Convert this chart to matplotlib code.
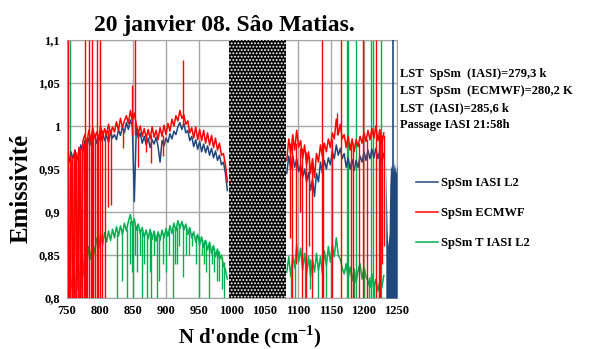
import matplotlib
matplotlib.use("Agg")
import matplotlib.pyplot as plt
import numpy as np

plt.rcParams["font.family"] = ["Liberation Serif", "DejaVu Serif"]
plt.rcParams["font.weight"] = "bold"
plt.rcParams["hatch.linewidth"] = 0.9

# ---------------- data ----------------
title = "20 janvier 08. Sâo Matias."
series_names = ["SpSm IASI L2", "SpSm ECMWF", "SpSm T IASI L2"]
notes = ["LST  SpSm  (IASI)=279,3 k",
         "LST  SpSm  (ECMWF)=280,2 K",
         "LST  (IASI)=285,6 k",
         "Passage IASI 21:58h"]

x_ticks = [750, 800, 850, 900, 950, 1000, 1050, 1100, 1150, 1200, 1250]
y_ticks = [0.8, 0.85, 0.9, 0.95, 1.0, 1.05, 1.1]
y_tick_labels = ["0,8", "0,85", "0,9", "0,95", "1", "1,05", "1,1"]

masked_band = (995, 1082)

# left part 753..993 step 3
wn_left = np.arange(753, 995, 3)
iasi_left = [
    0.958, 0.970, 0.962, 0.972, 0.960, 0.968, 0.978, 0.970, 0.983, 0.975,
    0.986, 0.978, 0.984, 0.990, 0.980, 0.987, 0.982, 0.992, 0.983, 0.989,
    0.981, 0.993, 0.986, 0.990, 0.984, 0.996, 0.989, 0.999, 0.992, 1.004,
    0.996, 1.007, 1.000, 0.912, 0.998, 0.986, 0.992, 0.980, 0.988, 0.978,
    0.986, 0.975, 0.984, 0.979, 0.987, 0.976, 0.958, 0.983, 0.977, 0.986,
    0.981, 0.991, 0.985, 0.994, 0.990, 0.999, 1.004, 0.996, 1.003, 0.992,
    0.995, 0.983, 0.988, 0.976, 0.984, 0.973, 0.982, 0.970, 0.979, 0.969,
    0.977, 0.966, 0.974, 0.963, 0.971, 0.960, 0.966, 0.955, 0.958, 0.945,
    0.925]
ecmwf_left = [
    0.800, 0.965, 0.800, 0.972, 0.810, 0.975, 0.800, 0.982, 0.990, 0.979,
    0.995, 0.983, 0.998, 0.986, 0.993, 0.985, 1.000, 0.988, 0.997, 0.990,
    1.002, 0.991, 0.999, 0.993, 1.005, 0.995, 1.009, 0.998, 1.006, 1.012,
    1.003, 1.018, 1.006, 1.015, 1.002, 0.992, 1.000, 0.988, 0.997, 0.986,
    0.996, 0.985, 0.999, 0.987, 0.995, 0.984, 0.998, 0.988, 1.001, 0.990,
    1.003, 0.994, 1.008, 1.000, 1.012, 1.006, 1.018, 1.009, 1.013, 1.002,
    1.006, 0.992, 0.998, 0.986, 0.999, 0.984, 0.996, 0.983, 0.995, 0.980,
    0.992, 0.978, 0.989, 0.975, 0.986, 0.972, 0.980, 0.966, 0.968, 0.955,
    0.935]
t_iasi_left = [
    0.800, 0.812, 0.828, 0.808, 0.838, 0.815, 0.845, 0.825, 0.852, 0.838,
    0.860, 0.845, 0.866, 0.852, 0.870, 0.858, 0.874, 0.862, 0.876, 0.865,
    0.878, 0.867, 0.880, 0.870, 0.883, 0.872, 0.884, 0.874, 0.887, 0.878,
    0.889, 0.897, 0.884, 0.892, 0.879, 0.886, 0.875, 0.882, 0.871, 0.879,
    0.869, 0.880, 0.868, 0.878, 0.866, 0.877, 0.867, 0.879, 0.870, 0.881,
    0.872, 0.884, 0.875, 0.887, 0.878, 0.890, 0.881, 0.889, 0.879, 0.886,
    0.874, 0.882, 0.870, 0.877, 0.865, 0.874, 0.862, 0.871, 0.859, 0.867,
    0.856, 0.865, 0.852, 0.861, 0.848, 0.857, 0.845, 0.850, 0.838, 0.833,
    0.822]

# right part 1083..1230 step 3
wn_right = np.arange(1083, 1233, 3)
iasi_right = [
    0.945, 0.965, 0.950, 0.966, 0.952, 0.962, 0.947, 0.955, 0.940, 0.950,
    0.935, 0.946, 0.925, 0.938, 0.918, 0.945, 0.935, 0.958, 0.945, 0.960,
    0.950, 0.963, 0.955, 0.970, 0.962, 0.978, 0.966, 0.974, 0.962, 0.968,
    0.952, 0.963, 0.950, 0.961, 0.948, 0.960, 0.952, 0.965, 0.958, 0.970,
    0.960, 0.972, 0.962, 0.973, 0.963, 0.974, 0.962, 0.972, 0.958, 0.968]
ecmwf_right = [
    0.960, 0.985, 0.968, 0.990, 0.972, 0.995, 0.975, 0.983, 0.962, 0.978,
    0.955, 0.970, 0.945, 0.962, 0.940, 0.968, 0.958, 0.978, 0.965, 0.980,
    0.970, 0.985, 0.975, 0.992, 0.985, 1.008, 0.990, 1.002, 0.985, 0.990,
    0.975, 0.988, 0.972, 0.985, 0.970, 0.984, 0.976, 0.988, 0.980, 0.992,
    0.982, 0.995, 0.984, 0.997, 0.986, 1.000, 0.983, 0.996, 0.980, 0.992]
t_iasi_right = [
    0.830, 0.848, 0.825, 0.850, 0.835, 0.862, 0.842, 0.858, 0.832, 0.852,
    0.828, 0.848, 0.825, 0.845, 0.830, 0.852, 0.832, 0.848, 0.828, 0.855,
    0.838, 0.860, 0.842, 0.862, 0.848, 0.870, 0.850, 0.845, 0.835, 0.828,
    0.840, 0.822, 0.836, 0.820, 0.834, 0.818, 0.832, 0.840, 0.822, 0.836,
    0.825, 0.820, 0.812, 0.828, 0.810, 0.822, 0.808, 0.820, 0.812, 0.826]

# IASI tail at the upper edge (1233..1250)
wn_tail = [1233, 1235, 1236, 1238, 1239, 1240, 1242, 1244, 1246, 1248, 1250]
iasi_tail = [0.960, 0.880, 0.860, 0.875, 0.930, 0.950, 0.955, 0.945, 0.958, 0.945, 0.955]

# spectral spikes: position, low end, high end
ecmwf_spike_wn = [751, 777, 783, 788, 795, 800, 853, 848, 925,
                  754, 755, 757, 758, 760, 761, 763, 764, 766, 767, 769, 770,
                  772, 773, 775, 779, 781, 786, 790, 793, 797, 803, 808,
                  812, 816, 857, 877, 870, 896, 835,
                  1136, 1165, 1198, 1218, 1159,
                  1088, 1091, 1097, 1103, 1106, 1112, 1117, 1121, 1138, 1151,
                  1180, 1183, 1192, 1205, 1222, 1224, 1227, 1230]
ecmwf_spike_lo = [0.80, 0.80, 0.80, 0.80, 0.80, 0.80, 0.99, 0.99, 1.00,
                  0.80, 0.80, 0.80, 0.80, 0.80, 0.80, 0.80, 0.80, 0.80, 0.80, 0.80, 0.80,
                  0.80, 0.80, 0.80, 0.80, 0.80, 0.80, 0.80, 0.80, 0.80, 0.80, 0.80,
                  0.906, 0.908, 0.952, 0.957, 0.970, 0.965, 0.975,
                  0.80, 0.80, 0.80, 0.80, 0.99,
                  0.87, 0.80, 0.84, 0.90, 0.80, 0.80, 0.86, 0.80, 0.80, 0.80,
                  0.80, 0.80, 0.80, 0.80, 0.80, 0.80, 0.84, 0.86]
ecmwf_spike_hi = [1.10, 1.10, 1.10, 1.10, 1.10, 1.10, 1.10, 1.048, 1.077,
                  0.96, 0.95, 0.965, 0.96, 0.97, 0.965, 0.97, 0.968, 0.972, 0.97, 0.975, 0.972,
                  0.978, 0.975, 0.98, 0.985, 0.985, 0.99, 0.99, 0.99, 0.99, 0.995, 0.995,
                  0.995, 0.995, 0.995, 0.99, 0.99, 0.99, 0.995,
                  1.10, 1.10, 1.10, 1.10, 1.015,
                  0.98, 0.98, 0.98, 0.975, 0.975, 0.97, 0.965, 0.96, 0.98, 0.985,
                  0.98, 0.98, 0.98, 0.985, 0.99, 0.99, 0.99, 0.99]

t_iasi_spike_wn = [754, 762, 768, 790, 826, 833, 841, 845, 848, 850, 853, 856,
                   860, 864, 867, 871, 875, 878, 882, 886, 890, 895, 900,
                   905, 910, 913, 917, 920, 926, 930, 935, 940, 945, 950,
                   955, 957, 960, 965, 970, 972, 977, 980, 985, 988,
                   1174, 1176, 1188, 1211, 1213, 1226,
                   1089, 1095, 1110, 1118, 1130, 1142, 1150, 1185, 1200,
                   1207, 1215, 1222]
t_iasi_spike_lo = [0.80, 0.80, 0.80, 0.80, 0.80, 0.82, 0.80, 0.84, 0.83, 0.80, 0.85, 0.83,
                   0.85, 0.80, 0.84, 0.80, 0.83, 0.80, 0.85, 0.80, 0.82, 0.84, 0.83,
                   0.85, 0.80, 0.84, 0.84, 0.86, 0.825, 0.85, 0.85, 0.86, 0.84, 0.80,
                   0.85, 0.84, 0.83, 0.80, 0.84, 0.83, 0.82, 0.82, 0.81, 0.80,
                   0.80, 0.80, 0.80, 0.80, 0.80, 0.80,
                   0.80, 0.80, 0.80, 0.81, 0.80, 0.80, 0.80, 0.80, 0.80,
                   0.80, 0.80, 0.80]
t_iasi_spike_hi = [1.10, 0.82, 0.83, 0.86, 0.875, 0.88, 0.88, 0.89, 0.89, 0.89, 0.885, 0.885,
                   0.88, 0.877, 0.875, 0.875, 0.876, 0.877, 0.874, 0.876, 0.875, 0.876, 0.878,
                   0.878, 0.88, 0.882, 0.883, 0.886, 0.886, 0.884, 0.882, 0.876, 0.873, 0.872,
                   0.868, 0.868, 0.865, 0.865, 0.86, 0.858, 0.856, 0.855, 0.848, 0.842,
                   1.10, 1.10, 1.10, 1.10, 1.10, 1.10,
                   0.832, 0.84, 0.848, 0.845, 0.84, 0.845, 0.85, 0.83, 0.835,
                   0.825, 0.82, 0.815]

iasi_spike_wn = [1244]
iasi_spike_lo = [0.80]
iasi_spike_hi = [1.10]

c_iasi = "#1F497D"
c_ecmwf = "#FF0000"
c_t = "#00B050"

# ---------------- figure ----------------
fig = plt.figure(figsize=(5.95, 3.49), dpi=100)
ax = fig.add_axes([67 / 595, 1 - 298 / 349, 330 / 595, 258 / 349])

lw = 1.1
ax.plot(wn_left, t_iasi_left, color=c_t, lw=lw, zorder=2)
ax.plot(wn_right, t_iasi_right, color=c_t, lw=lw, zorder=2)
ax.vlines(t_iasi_spike_wn, t_iasi_spike_lo, t_iasi_spike_hi, color=c_t, lw=1.0, zorder=2)

l_iasi, = ax.plot(wn_left, iasi_left, color=c_iasi, lw=lw, zorder=3)
ax.plot(wn_right, iasi_right, color=c_iasi, lw=lw, zorder=3)
ax.fill_between(wn_tail, 0.8, iasi_tail, color=c_iasi, lw=0, zorder=3)
ax.vlines(iasi_spike_wn, iasi_spike_lo, iasi_spike_hi, color=c_iasi, lw=1.2, zorder=3)

l_ecmwf, = ax.plot(wn_left, ecmwf_left, color=c_ecmwf, lw=lw, zorder=4)
ax.plot(wn_right, ecmwf_right, color=c_ecmwf, lw=lw, zorder=4)
ax.vlines(ecmwf_spike_wn, ecmwf_spike_lo, ecmwf_spike_hi, color=c_ecmwf, lw=1.0, zorder=4)

l_t, = ax.plot([], [], color=c_t, lw=lw)

# masked band
ax.axvspan(masked_band[0], masked_band[1], facecolor="black", edgecolor="white",
           hatch=".....", lw=0, zorder=5)

ax.set_xlim(750, 1250)
ax.set_ylim(0.8, 1.1)
ax.set_xticks(x_ticks)
ax.set_yticks(y_ticks)
ax.set_yticklabels(y_tick_labels)
ax.tick_params(length=0, labelsize=9, pad=5)
for lab in ax.get_xticklabels() + ax.get_yticklabels():
    lab.set_fontweight("bold")
ax.grid(True, color="#A6A6A6", lw=1)
ax.set_axisbelow(True)
for s in ax.spines.values():
    s.set_color("#A6A6A6")

fig.text(224 / 595, 1 - 25 / 349, title, fontsize=17, fontweight="bold",
         ha="center", va="center")
fig.text(21 / 595, 1 - 188 / 349, "Emissivité", fontsize=18, fontweight="bold",
         rotation=90, ha="center", va="center")
fig.text(250 / 595, 1 - 337 / 349, "N d'onde (cm$^{\\mathregular{-1}}$)", fontsize=15,
         fontweight="bold", ha="center", va="center")

for i, line in enumerate(notes):
    fig.text(400 / 595, 1 - (74 + 17 * i) / 349, line, fontsize=9,
             fontweight="bold", ha="left", va="center")

fig.legend([l_iasi, l_ecmwf, l_t], series_names, loc="upper left",
           bbox_to_anchor=(405 / 595, 1 - 166 / 349), frameon=False,
           prop={"size": 9, "weight": "bold"}, labelspacing=1.45,
           handlelength=1.7, handletextpad=0.3)

fig.savefig("out.png", dpi=100)
